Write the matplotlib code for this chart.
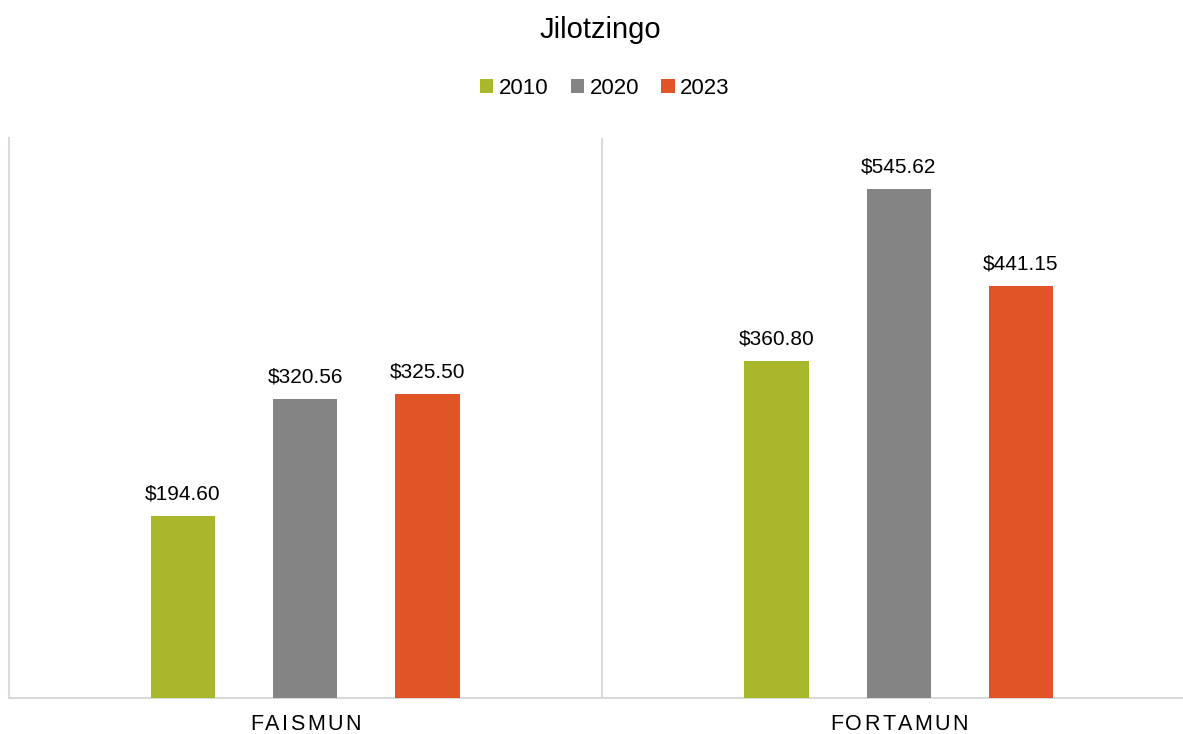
import matplotlib
matplotlib.use("Agg")
import matplotlib.pyplot as plt
import numpy as np

plt.rcParams['font.family'] = ['Liberation Sans', 'DejaVu Sans']

categories = ["FAISMUN", "FORTAMUN"]
years = ["2010", "2020", "2023"]
v2010 = [194.60, 360.80]
v2020 = [320.56, 545.62]
v2023 = [325.50, 441.15]
colors = ["#A8B82A", "#848484", "#E05428"]

W, H = 1183, 734
fig = plt.figure(figsize=(W/100, H/100), dpi=100)
ax = fig.add_axes([8.5/W, (H-698)/H, (1195.5-8.5)/W, (698-138)/H])

x = np.arange(len(categories))
bw = 0.108
off = 0.206
for i, (vals, c, lab) in enumerate(zip([v2010, v2020, v2023], colors, years)):
    bars = ax.bar(x + (i-1)*off, vals, bw, color=c, label=lab, zorder=3)
    for b, v in zip(bars, vals):
        ax.annotate(f"${v:,.2f}", (b.get_x()+b.get_width()/2, v),
                    xytext=(0, 9), textcoords="offset points",
                    ha="center", va="bottom", fontsize=15, color="#000000")

ax.set_xlim(-0.5, 1.5)
ax.set_ylim(0, 600)
ax.set_yticks([])
ax.set_xticks(x)
ax.set_xticklabels([""] * len(categories))
ax.tick_params(axis='x', length=0)
for s in ["top", "right"]:
    ax.spines[s].set_visible(False)
ax.spines["left"].set_color("#D9D9D9")
ax.spines["left"].set_linewidth(1.5)
ax.spines["bottom"].set_color("#D9D9D9")
ax.spines["bottom"].set_linewidth(1.5)
ax.axvline(0.5, color="#D9D9D9", lw=1.5, zorder=1)

# letter-spaced category labels
renderer = fig.canvas.get_renderer()
spacing_px = 2.3
label_y_px = 725
for xc, lab in zip(x, categories):
    widths = []
    for ch in lab:
        t = fig.text(0, 0, ch, fontsize=15.5)
        widths.append(t.get_window_extent(renderer).width)
        t.remove()
    total = sum(widths) + spacing_px * (len(lab) - 1)
    cx_disp = ax.transData.transform((xc, 0))[0]
    start = cx_disp - total / 2
    for ch, w in zip(lab, widths):
        fig.text(start / W, 1 - label_y_px / H, ch, fontsize=15.5,
                 ha="left", va="center", color="#000000")
        start += w + spacing_px

fig.text(600/W, 1-30/H, "Jilotzingo", ha="center", va="center", fontsize=21)
leg = fig.legend(loc="center", bbox_to_anchor=(605/W, 1-88/H), ncol=3, frameon=False,
                 fontsize=16, handlelength=0.6, handleheight=0.6, handletextpad=0.25,
                 columnspacing=1.0)

fig.savefig("out.png", dpi=100)
